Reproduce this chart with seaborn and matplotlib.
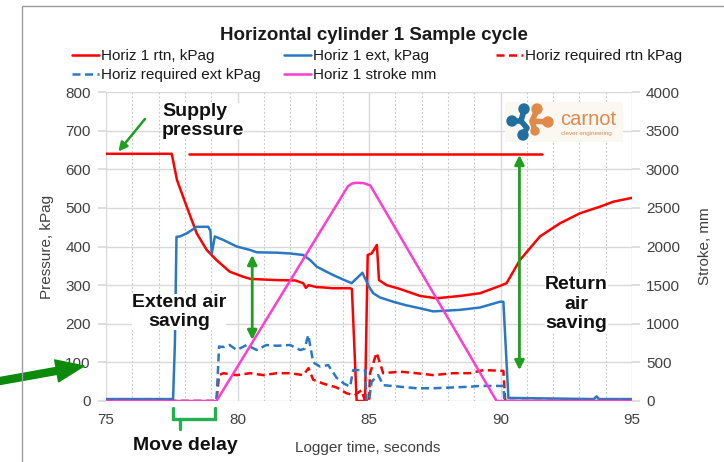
import matplotlib
matplotlib.use("Agg")
import matplotlib.pyplot as plt
from matplotlib.patches import Circle, Rectangle
from matplotlib.ticker import MultipleLocator
import numpy as np
import pandas as pd
import seaborn as sns

# ---- data ----
rtn_t = [75, 77.5, 77.7, 78.07, 78.45, 78.83, 79.2, 79.7, 80.2, 80.5, 81.5, 82.2, 82.5, 82.6,
         82.7, 83.0, 83.26, 83.6, 84.28, 84.35, 84.53, 84.85, 84.95, 85.1, 85.3, 85.38, 85.67,
         86.18, 86.94, 87.57, 88.46, 89.22, 89.98, 90.23, 90.74, 91.5, 92.26, 93.02, 93.78,
         94.29, 95]
rtn_kpag = [640, 640, 572, 503, 434, 391, 365, 335, 322, 316, 313, 312, 305, 293,
            300, 295, 294, 292, 292, 290, 0, 0, 378, 382, 404, 313, 300,
            290, 272, 266, 272, 279, 298, 305, 365, 426, 460, 486, 503,
            516, 526]

ext_t = [75, 77.55, 77.62, 77.68, 77.81, 78.07, 78.45, 78.89, 78.97, 79.02, 79.14, 79.46,
         79.97, 80.48, 80.73, 81.5, 82.0, 82.5, 82.76, 83.01, 83.26, 83.64, 84.0, 84.34,
         84.75, 85.0, 85.16, 85.42, 85.92, 86.4, 86.94, 87.44, 88.46, 89.22, 89.98, 90.11,
         90.3, 93.55, 93.65, 93.75, 95]
ext_kpag = [5, 5, 150, 425, 426, 434, 451, 451, 440, 382, 426, 417,
            400, 391, 385, 384, 382, 378, 365, 348, 339, 326, 315, 305,
            332, 296, 279, 268, 257, 248, 240, 232, 236, 242, 257, 257,
            8, 5, 12, 5, 5]

req_rtn_t = [75, 79.2, 79.3, 79.46, 79.97, 80.48, 80.98, 81.5, 82.0, 82.5, 82.7, 82.88,
             83.26, 83.77, 84.15, 84.45, 84.72, 84.85, 85.0, 85.04, 85.29, 85.54, 86.18,
             86.8, 87.45, 88.2, 88.84, 89.35, 90.11, 90.18, 95]
req_rtn_kpag = [0, 0, 67, 72, 67, 72, 67, 72, 72, 67, 85, 55,
                45, 35, 20, 15, 28, 0, 0, 72, 125, 72, 76,
                72, 67, 72, 72, 80, 78, 0, 0]

req_ext_t = [75, 79.2, 79.3, 79.5, 79.7, 79.97, 80.35, 80.73, 81.1, 81.5, 82.0, 82.38,
             82.55, 82.69, 82.88, 83.14, 83.45, 83.77, 84.05, 84.28, 84.4, 84.85, 84.91,
             85.0, 85.1, 85.35, 85.54, 86.18, 86.81, 87.45, 88.84, 89.22, 90.11, 90.15, 95]
req_ext_kpag = [0, 0, 141, 140, 145, 132, 145, 132, 145, 143, 145, 132,
                135, 171, 100, 89, 93, 60, 45, 37, 80, 80, 0,
                0, 50, 67, 41, 37, 33, 33, 37, 39, 39, 0, 0]

stroke_t = [75, 79.2, 84.2, 84.35, 84.5, 84.8, 85.05, 89.85, 95]
stroke_mm = [0, 0, 2780, 2815, 2825, 2820, 2790, 0, 0]

supply_kpag = 640
supply_start, supply_end = 78.17, 91.57
move_delay_start, move_delay_end = 77.55, 79.15

RED = "#ff0000"
BLUE = "#2a78c2"
PINK = "#ff3dcf"
GREEN = "#1f9e1f"

sns.set_theme(style="white")
plt.rcParams["font.family"] = ["Liberation Sans", "DejaVu Sans"]

fig = plt.figure(figsize=(7.24, 4.62), dpi=100)
ax = fig.add_axes([106 / 724, 1 - 401 / 462, 526 / 724, 309 / 462])
ax2 = ax.twinx()

series = [
    (rtn_t, rtn_kpag, RED, None, "Horiz 1 rtn, kPag"),
    (ext_t, ext_kpag, BLUE, None, "Horiz 1 ext, kPag"),
    (req_rtn_t, req_rtn_kpag, RED, (3.2, 1.8), "Horiz required rtn kPag"),
    (req_ext_t, req_ext_kpag, BLUE, (3.2, 1.8), "Horiz required ext kPag"),
]
handles = {}
for t, v, c, dash, name in series:
    df = pd.DataFrame({"time": t, "value": v})
    sns.lineplot(data=df, x="time", y="value", ax=ax, color=c, lw=1.8,
                 sort=False, estimator=None, legend=False)
    line = ax.lines[-1]
    if dash:
        line.set_dashes(dash)
    handles[name] = line

ax.plot([supply_start, supply_end], [supply_kpag, supply_kpag], color=RED, lw=1.8)

df = pd.DataFrame({"time": stroke_t, "stroke": stroke_mm})
sns.lineplot(data=df, x="time", y="stroke", ax=ax2, color=PINK, lw=1.8,
             sort=False, estimator=None, legend=False)
handles["Horiz 1 stroke mm"] = ax2.lines[-1]

# axes styling
ax.set_xlim(75, 95)
ax.set_ylim(0, 800)
ax2.set_ylim(0, 4000)
ax.xaxis.set_major_locator(MultipleLocator(5))
ax.xaxis.set_minor_locator(MultipleLocator(1))
ax.yaxis.set_major_locator(MultipleLocator(100))
ax2.yaxis.set_major_locator(MultipleLocator(500))
ax.grid(which="major", axis="both", color="#d9d9d9", lw=1)
ax.grid(which="minor", axis="x", color="#c4c4c4", lw=0.8, ls=(0, (1.5, 2)))
ax2.grid(False)
for a in (ax, ax2):
    for s in a.spines.values():
        s.set_visible(False)
ax.tick_params(axis="x", which="both", length=0, pad=9, labelsize=11, labelcolor="#404040")
ax.tick_params(axis="y", length=6, color="#d9d9d9", pad=5, labelsize=11, labelcolor="#404040", left=True)
ax2.tick_params(axis="y", length=6, color="#d9d9d9", pad=4, labelsize=11, labelcolor="#404040", right=True)

ax.set_xlabel("Logger time, seconds", fontsize=11, color="#404040")
ax.set_ylabel("Pressure, kPag", fontsize=11, color="#404040")
ax2.set_ylabel("Stroke, mm", fontsize=11, color="#404040")
ax.xaxis.set_label_coords(0.498, -0.128)
ax.yaxis.set_label_coords(-0.099, 0.5)
ax2.yaxis.set_label_coords(1.126, 0.5)

# title and legend
fig.text(374 / 724, 1 - 36 / 462, "Horizontal cylinder 1 Sample cycle", ha="center", va="center",
         fontsize=13.5, fontweight="bold", color="#1a1a1a")
cols = [(72, ["Horiz 1 rtn, kPag", "Horiz required ext kPag"]),
        (284, ["Horiz 1 ext, kPag", "Horiz 1 stroke mm"]),
        (496, ["Horiz required rtn kPag"])]
for x0, names in cols:
    leg = fig.legend([handles[n] for n in names], names, loc="upper left",
                     bbox_to_anchor=(x0 / 724, 1 - 49 / 462), frameon=False,
                     fontsize=11, borderpad=0, borderaxespad=0, handlelength=1.75,
                     handletextpad=0.15, labelspacing=0.32)
    for txt in leg.get_texts():
        txt.set_color("#1a1a1a")

# annotations
dt = ax.transData
txt_kw = dict(fontsize=14, fontweight="bold", color="#111111")
ax2.text(77.13, 724, "Supply\npressure", transform=dt, ha="left", va="center",
         linespacing=1.15, bbox=dict(fc="white", ec="none", pad=0), **txt_kw)
ax2.text(77.78, 230, "Extend air\nsaving", transform=dt, ha="center", va="center",
         linespacing=1.15, bbox=dict(fc="white", ec="none", pad=0), **txt_kw)
ax2.text(92.89, 251, "Return\nair\nsaving", transform=dt, ha="center", va="center",
         linespacing=1.2, bbox=dict(fc="white", ec="none", pad=0), **txt_kw)
ax2.text(78.0, -114, "Move delay", transform=dt, ha="center", va="center", clip_on=False, **txt_kw)

ax2.annotate("", xy=(75.47, 646), xycoords=dt, xytext=(76.48, 730), textcoords=dt,
             arrowprops=dict(arrowstyle="-|>", color=GREEN, lw=1.8, mutation_scale=13,
                             shrinkA=0, shrinkB=0))
dbl = dict(arrowstyle="<|-|>", color=GREEN, lw=2, mutation_scale=14, shrinkA=0, shrinkB=0)
ax2.annotate("", xy=(80.56, 378), xycoords=dt, xytext=(80.56, 158), textcoords=dt, arrowprops=dbl)
ax2.annotate("", xy=(90.72, 637), xycoords=dt, xytext=(90.72, 80), textcoords=dt, arrowprops=dbl)

# move delay bracket
bx = [move_delay_start, move_delay_start, move_delay_end, move_delay_end]
by = [-17, -46, -46, -17]
ax.plot(bx, by, color="#22b14c", lw=2.4, clip_on=False, solid_joinstyle="miter")
ax.plot([77.81, 77.81], [-46, -72], color="#22b14c", lw=2.4, clip_on=False)

# big arrow pointing at the axis from outside
ax.annotate("", xy=(84, 96), xycoords="figure pixels", xytext=(0, 81), textcoords="figure pixels",
            annotation_clip=False,
            arrowprops=dict(arrowstyle="simple,head_length=2.0,head_width=1.6,tail_width=0.5",
                            mutation_scale=10, color="#0b8a0b", shrinkA=0, shrinkB=0))

# logo
lax = fig.add_axes([505 / 724, 1 - 142 / 462, 118 / 724, 40 / 462])
lax.set_xlim(505, 623)
lax.set_ylim(142, 102)
lax.set_facecolor("#fbf7f1")
for s in lax.spines.values():
    s.set_visible(False)
lax.set_xticks([])
lax.set_yticks([])
LB, LO = "#1f6f9f", "#e08a4a"
lax.plot([512, 521, 527, 523], [121, 121, 128, 135], color=LB, lw=4, solid_capstyle="round")
lax.plot([524, 521], [110, 121], color=LB, lw=4, solid_capstyle="round")
lax.plot([537, 532, 548], [110, 121, 122], color=LO, lw=4, solid_capstyle="round")
lax.plot([532, 535], [121, 131], color=LO, lw=4, solid_capstyle="round")
for (cx, cy, r, c) in [(512, 121, 5, LB), (524, 109, 5, LB), (523, 135, 5, LB),
                       (537, 109, 5, LO), (548, 122, 5, LO), (535, 131, 4, LO)]:
    lax.add_patch(Circle((cx, cy), r, color=c))
lax.text(560, 120, "carnot", fontsize=14.5, color="#e0894f", ha="left", va="center")
lax.text(561, 134, "clever engineering", fontsize=4.5, color="#e0894f", ha="left", va="center")

# outer frame of the original screenshot
fig.add_artist(Rectangle((22 / 724, -0.1), 1.1, 1.1 - 6 / 462, fill=False, edgecolor="#9a9a9a",
                         lw=1, transform=fig.transFigure))

fig.savefig("out.png", dpi=100)
